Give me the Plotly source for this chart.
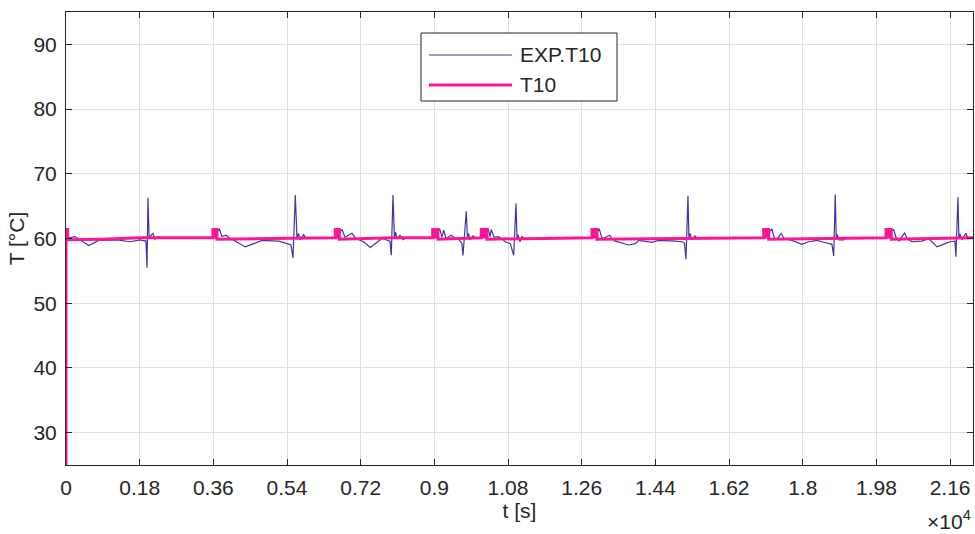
import plotly.graph_objects as go

# ---------------- data ----------------
exp_t = [0, 220, 555, 799, 1246, 1564, 1808, 1954, 1979, 2003, 2030, 2125, 2174, 2248, 2419, 3000, 3567,
         3745, 3811, 3909, 4007, 4056, 4380, 4788, 5197, 5399, 5497, 5546, 5602, 5644, 5680, 5717, 5807, 5863, 6572,
         6743, 6816, 6987, 7085, 7273, 7434, 7720, 7818, 7916, 7948, 7989, 8026, 8050, 8087, 8160, 8233, 8307, 8942,
         9130, 9186, 9228, 9284, 9413, 9504, 9594, 9675, 9699, 9780, 9809, 9834, 9870, 9943, 10017, 10139,
         10310, 10359, 10391, 10457, 10571, 10652, 10733, 10855, 10938, 10994, 11019, 11043, 11092, 11140, 11214, 11336, 12851,
         13029, 13083, 13119, 13283, 13339, 13420, 13747, 13909, 13992, 14153, 14317, 14480, 14683, 14886, 15049, 15110,
         15147, 15196, 15220, 15245, 15293, 15367, 15440, 15538, 17028,
         17248, 17309, 17370, 17475, 17541, 17737, 17981, 18145, 18348, 18470, 18634, 18714, 18756, 18795, 18819, 18844,
         18885, 19000, 19032, 19105, 20034,
         20222, 20278, 20351, 20491, 20547, 20669, 20913, 21077, 21280, 21482, 21604, 21719, 21743, 21792, 21816, 21841,
         21890, 21988, 22036, 22158]
exp_T = [60.0, 60.3, 58.9, 59.7, 59.8, 59.5, 59.8, 59.6, 55.5, 66.3, 60.2, 60.8, 59.9, 60.3, 60.0, 60.0, 60.0,
         61.5, 60.3, 60.5, 60.0, 59.9, 58.7, 59.7, 59.6, 59.2, 59.0, 57.0, 66.7, 60.0, 60.8, 59.8, 60.6, 60.0, 60.0,
         61.4, 60.2, 60.8, 60.0, 59.5, 58.6, 60.0, 59.8, 59.6, 57.4, 66.7, 60.0, 61.0, 59.9, 60.5, 59.8, 60.1, 60.0,
         61.5, 60.2, 61.3, 60.0, 60.5, 60.0, 59.9, 59.2, 57.4, 64.2, 60.0, 60.8, 59.8, 60.4, 60.0, 60.0,
         61.6, 60.3, 61.4, 60.2, 60.3, 59.9, 59.5, 59.2, 57.4, 65.4, 60.0, 60.6, 59.5, 60.3, 59.9, 60.0, 60.0,
         61.5, 60.3, 60.0, 60.5, 60.0, 59.6, 59.0, 59.2, 59.7, 59.5, 59.4, 59.7, 59.7, 59.6, 59.5, 59.3,
         56.8, 66.6, 60.0, 60.8, 59.8, 60.4, 59.9, 60.0, 60.0,
         61.5, 60.0, 59.9, 60.8, 60.0, 59.7, 59.1, 59.5, 59.7, 59.5, 59.2, 59.1, 57.3, 66.8, 60.0, 60.6,
         59.8, 59.8, 60.2, 60.0, 60.0,
         61.4, 60.2, 59.6, 60.9, 60.0, 59.5, 59.6, 60.0, 58.7, 59.2, 59.5, 59.6, 57.2, 66.4, 60.0, 60.7,
         59.8, 60.8, 60.0, 60.1]

sim_t = [0, 0, 40, 40, 900, 1800, 3591,
         3591, 3640, 3640, 3640, 3689, 3689, 5000, 6579,
         6579, 6628, 6628, 6628, 6677, 6677, 8000, 8959,
         8959, 9024, 9024, 9024, 9089, 9089, 10146,
         10146, 10215, 10215, 10215, 10285, 10285, 12851,
         12851, 12912, 12912, 12912, 12973, 12973, 17045,
         17045, 17106, 17106, 17106, 17168, 17168, 20034,
         20034, 20098, 20098, 20098, 20163, 20163, 22160]
sim_T = [25.0, 61.4, 61.4, 59.8, 59.9, 60.1, 60.1,
         61.4, 61.4, 60.0, 61.4, 61.4, 59.9, 60.0, 60.1,
         61.4, 61.4, 60.0, 61.4, 61.4, 59.9, 60.1, 60.1,
         61.4, 61.4, 60.0, 61.4, 61.4, 59.9, 60.1,
         61.4, 61.4, 60.0, 61.4, 61.4, 59.9, 60.1,
         61.4, 61.4, 60.0, 61.4, 61.4, 59.9, 60.1,
         61.4, 61.4, 60.0, 61.4, 61.4, 59.9, 60.1,
         61.4, 61.4, 60.0, 61.4, 61.4, 59.9, 60.1]

xtick_vals = [0, 1800, 3600, 5400, 7200, 9000, 10800, 12600, 14400, 16200, 18000, 19800, 21600]
xtick_text = ["0", "0.18", "0.36", "0.54", "0.72", "0.9", "1.08", "1.26", "1.44", "1.62", "1.8", "1.98", "2.16"]
ytick_vals = [30, 40, 50, 60, 70, 80, 90]

series_names = ["EXP.T10", "T10"]
series_colors = ["rgb(60,55,165)", "#ff1493"]
series_widths = [1.2, 3]

# ---------------- figure ----------------
FONT = "Liberation Sans, Arial, Helvetica, sans-serif"
TXT = "#262626"

fig = go.Figure()
fig.add_trace(go.Scatter(x=exp_t, y=exp_T, mode="lines", name=series_names[0],
                         line=dict(color=series_colors[0], width=series_widths[0])))
fig.add_trace(go.Scatter(x=sim_t, y=sim_T, mode="lines", name=series_names[1],
                         line=dict(color=series_colors[1], width=series_widths[1])))

axis_common = dict(showline=True, linecolor=TXT, linewidth=1, mirror="ticks",
                   ticks="inside", ticklen=6, tickcolor=TXT, tickwidth=1,
                   showgrid=True, gridcolor="#dfdfdf", gridwidth=1, zeroline=False,
                   automargin=False, ticklabelstandoff=4,
                   tickfont=dict(family=FONT, size=21, color=TXT))

fig.update_xaxes(range=[0, 22160], tickvals=xtick_vals, ticktext=xtick_text,
                 title=dict(text="t [s]", font=dict(family=FONT, size=21, color=TXT), standoff=3),
                 **axis_common)
fig.update_yaxes(range=[25, 95], tickvals=ytick_vals,
                 title=dict(text="T [°C]", font=dict(family=FONT, size=21, color=TXT), standoff=3),
                 **axis_common)

# legend drawn as box + sample lines + text (MATLAB-style long sample lines)
lx0, lx1, ly0, ly1 = 0.3914, 0.6075, 0.8035, 0.9536
fig.add_shape(type="rect", xref="paper", yref="paper", x0=lx0, x1=lx1, y0=ly0, y1=ly1,
              line=dict(color=TXT, width=1), fillcolor="white", layer="above")
item_y = [0.9051, 0.8389]
for name, col, w, yy in zip(series_names, series_colors, series_widths, item_y):
    fig.add_shape(type="line", xref="paper", yref="paper", x0=0.4002, x1=0.4917, y0=yy, y1=yy,
                  line=dict(color=col, width=w), layer="above")
    fig.add_annotation(xref="paper", yref="paper", x=0.4983, y=yy, text=name, showarrow=False,
                       xanchor="left", yanchor="middle", font=dict(family=FONT, size=21, color=TXT))

fig.add_annotation(xref="paper", yref="paper", x=1.0, y=-0.088, text="×10<sup>4</sup>", showarrow=False,
                   xanchor="right", yanchor="top", font=dict(family=FONT, size=21, color=TXT))

fig.update_layout(width=975, height=534, margin=dict(l=66, r=2, t=12, b=69),
                  paper_bgcolor="white", plot_bgcolor="white", showlegend=False,
                  font=dict(family=FONT, color=TXT))

# remove the default page margin so the 975x534 figure fills the window exactly
fig.write_html("out.html", config={"displayModeBar": False},
               post_script="document.body.style.margin='0';document.body.style.overflow='hidden';")
